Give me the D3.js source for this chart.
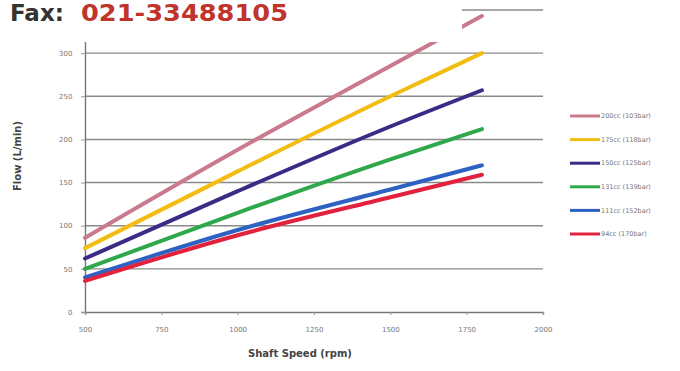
<!DOCTYPE html>
<html>
<head>
<meta charset="utf-8">
<script src="https://cdn.jsdelivr.net/npm/d3@7"></script>
<style>
  body { margin: 0; background: #fff; }
  svg { display: block; }
</style>
</head>
<body>
<svg id="chart" width="680" height="371"></svg>
<script>
// Данные графика
const rpm = [500, 1000, 1500, 1800]
const seriesNames = ['200cc (103bar)', '175cc (118bar)', '150cc (125bar)', '131cc (139bar)', '111cc (152bar)', '94cc (170bar)']
const seriesColors = ['#c97a8c', '#f2bd12', '#3b2b86', '#2ea84b', '#2d62c2', '#e2213d']
const flow200 = [86, 188, 285, 343]
const flow175 = [74, 163, 250, 300]
const flow150 = [62, 140, 215, 257]
const flow131 = [50, 115, 177, 212]
const flow111 = [40, 95, 142, 170]
const flow94 = [36, 89, 133, 159]
const xTicks = [500, 750, 1000, 1250, 1500, 1750, 2000]
const yTicks = [0, 50, 100, 150, 200, 250, 300]
const yGrid = [50, 100, 150, 200, 250, 300, 350]

const allSeries = [flow200, flow175, flow150, flow131, flow111, flow94]

const svg = d3.select('#chart')
const x = d3.scaleLinear().domain([500, 2000]).range([85, 543])
const y = d3.scaleLinear().domain([0, 350]).range([312, 10])

// Сетка
svg.append('g')
  .selectAll('line')
  .data(yGrid)
  .join('line')
  .attr('x1', x(500)).attr('x2', x(2000))
  .attr('y1', d => y(d)).attr('y2', d => y(d))
  .attr('stroke', '#8a8a8a').attr('stroke-width', 1.4)

// Оси
const yAxis = svg.append('g')
  .attr('transform', `translate(${x(500)},0)`)
  .call(d3.axisLeft(y).tickValues(yTicks).tickSize(4).tickFormat(d3.format('d')))
const xAxis = svg.append('g')
  .attr('transform', `translate(0,${y(0)})`)
  .call(d3.axisBottom(x).tickValues(xTicks).tickSize(3).tickFormat(d3.format('d')))

;[yAxis, xAxis].forEach(a => {
  a.select('.domain').attr('stroke', '#777').attr('stroke-width', 1.4)
  a.selectAll('.tick line').attr('stroke', '#999')
  a.selectAll('text').attr('fill', '#777').attr('font-size', 7)
    .attr('font-family', 'DejaVu Sans')
})
xAxis.selectAll('text').attr('dy', '2em')
yAxis.selectAll('text').attr('dx', '-0.8em')

// Линии серий
const line = d3.line()
  .x((d, i) => x(rpm[i]))
  .y(d => y(d))
  .curve(d3.curveMonotoneX)

svg.append('g')
  .selectAll('path')
  .data(allSeries)
  .join('path')
  .attr('d', d => line(d))
  .attr('fill', 'none')
  .attr('stroke', (d, i) => seriesColors[i])
  .attr('stroke-width', 4)
  .attr('stroke-linecap', 'round')

// Подписи осей
svg.append('text')
  .attr('x', 300).attr('y', 357)
  .attr('text-anchor', 'middle')
  .attr('font-family', 'DejaVu Sans').attr('font-weight', 'bold')
  .attr('font-size', 10).attr('fill', '#444')
  .text('Shaft Speed (rpm)')

svg.append('text')
  .attr('transform', 'translate(21,156) rotate(-90)')
  .attr('text-anchor', 'middle')
  .attr('font-family', 'DejaVu Sans').attr('font-weight', 'bold')
  .attr('font-size', 10).attr('fill', '#444')
  .text('Flow (L/min)')

// Легенда
const legend = svg.append('g')
  .selectAll('g')
  .data(seriesNames)
  .join('g')
  .attr('transform', (d, i) => `translate(570,${116 + i * 23.6})`)

legend.append('line')
  .attr('x1', 0).attr('x2', 30)
  .attr('stroke', (d, i) => seriesColors[i])
  .attr('stroke-width', 3)
legend.append('text')
  .attr('x', 31).attr('dy', '0.35em')
  .attr('font-family', 'DejaVu Sans').attr('font-size', 6.5)
  .attr('fill', '#777')
  .text(d => d)

// Белая плашка с факсом поверх графика
svg.append('rect')
  .attr('x', 0).attr('y', 0).attr('width', 462).attr('height', 42)
  .attr('fill', '#fff')

svg.append('text')
  .attr('x', 10).attr('y', 21)
  .attr('font-family', 'DejaVu Sans').attr('font-weight', 'bold')
  .attr('font-size', 23).attr('fill', '#333')
  .text('Fax:')
svg.append('text')
  .attr('x', 81).attr('y', 21)
  .attr('font-family', 'DejaVu Sans').attr('font-weight', 'bold')
  .attr('font-size', 23).attr('fill', '#c0342c')
  .attr('textLength', 207).attr('lengthAdjust', 'spacingAndGlyphs')
  .text('021-33488105')
</script>
</body>
</html>
